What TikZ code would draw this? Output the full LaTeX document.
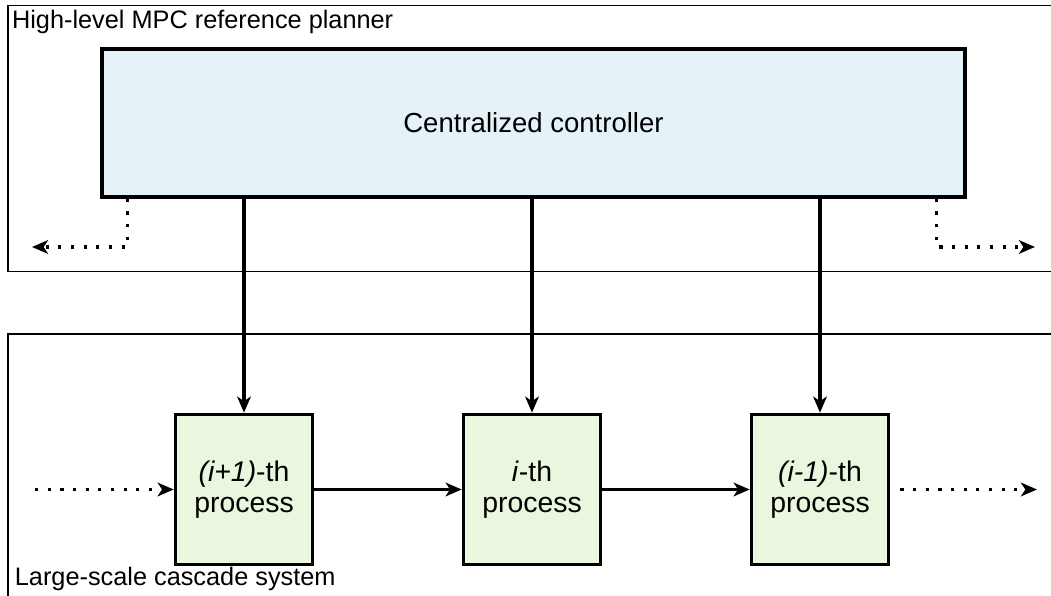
\documentclass[tikz,border=0pt]{standalone}
\usepackage{fontspec}
\setmainfont{Liberation Sans}
\usetikzlibrary{arrows.meta}

\definecolor{ctrlblue}{RGB}{229,242,248}
\definecolor{procgreen}{RGB}{232,247,222}

\begin{document}
\begin{tikzpicture}[
      every node/.style={font=\fontsize{19.6pt}{22pt}\selectfont},
      frame/.style={draw, line width=1.3pt},
      framelabel/.style={font=\fontsize{18pt}{21pt}\selectfont, inner sep=3pt},
      ctrlbox/.style={draw, line width=2.6pt, fill=ctrlblue, minimum width=21.575cm, minimum height=3.7cm},
      procbox/.style={draw, line width=2.6pt, fill=procgreen, minimum width=3.425cm, minimum height=3.75cm, align=center, font=\fontsize{20.2pt}{22pt}\selectfont},
      flow/.style={line width=2.2pt, -{Stealth[length=0.4cm, width=0.34cm, inset=0.11cm]}},
      dotflow/.style={flow, dash pattern=on 2.3pt off 6.7pt},
    ]

    \clip (0,0) rectangle (26.275,14.9);

    % planner and plant frames, both run off the right side
    \draw[frame] (27,14.7625) -- (0.19,14.7625) -- (0.19,8.1125) -- (27,8.1125);
    \draw[frame] (27,6.55) -- (0.19,6.55) -- (0.19,-1);
    \node[framelabel, anchor=north west] (plannerlabel) at (0.19,14.7625) {High-level MPC reference planner};
    \node[framelabel, anchor=base west] (plantlabel) at (0.26,0.25) {Large-scale cascade system};

    \node[ctrlbox] (ctrl) at (13.3375,11.825) {Centralized controller};

    \node[procbox] (p1) at (6.1,2.6625) {\textit{(i+1)}-th\\process};
    \node[procbox] (p2) at (13.3,2.6625) {\textit{i}-th\\process};
    \node[procbox] (p3) at (20.5,2.6625) {\textit{(i-1)}-th\\process};

    \coordinate (outL) at (0.8,8.725);
    \coordinate (outR) at (25.875,8.725);
    \coordinate (inL) at (0.875,2.6625);
    \coordinate (endR) at (25.925,2.6625);

    % references down to every process
    \draw[flow] (ctrl.south -| p1.north) -- (p1.north);
    \draw[flow] (ctrl.south -| p2.north) -- (p2.north);
    \draw[flow] (ctrl.south -| p3.north) -- (p3.north);

    % neighbours outside the shown part
    \draw[dotflow] ([xshift=0.675cm]ctrl.south west) |- (outL);
    \draw[dotflow] ([xshift=-0.75cm]ctrl.south east) |- (outR);

    % cascade
    \draw[dotflow] (inL) -- (p1.west);
    \draw[flow] (p1.east) -- (p2.west);
    \draw[flow] (p2.east) -- (p3.west);
    \draw[dotflow] ([xshift=0.25cm]p3.east) -- (endR);

\end{tikzpicture}
\end{document}
